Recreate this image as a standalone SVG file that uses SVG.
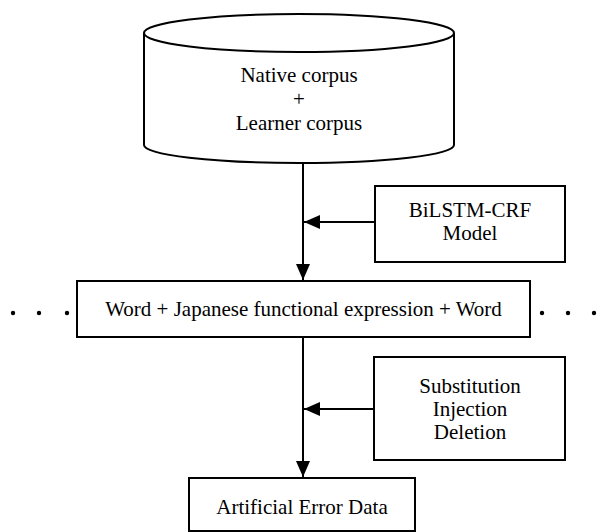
<svg xmlns="http://www.w3.org/2000/svg" width="597" height="532" viewBox="0 0 597 532">
<style>
.s{fill:#fff;stroke:#000;stroke-width:2}
.t{font-family:"Liberation Serif","Times New Roman",serif;font-size:21px;fill:#000;text-anchor:middle}
.c{stroke:#000;stroke-width:2;fill:none}
</style>
<defs>
<marker id="ah" markerUnits="userSpaceOnUse" markerWidth="16" markerHeight="16" viewBox="0 0 16 16" refX="16" refY="8" orient="auto">
<path d="M0,1 L16,8 L0,15 Z" fill="#000"/>
</marker>
</defs>
<rect width="597" height="532" fill="#fff"/>
<g id="corpus">
<path class="s" d="M144,33 L144,145 A155,18 0 0 0 454,145 L454,33"/>
<ellipse class="s" cx="299" cy="33" rx="155" ry="19"/>
<text class="t" x="299" y="82">Native corpus</text>
<text class="t" x="299" y="106">+</text>
<text class="t" x="299" y="130">Learner corpus</text>
</g>
<g id="bilstm">
<rect class="s" x="375" y="186" width="190" height="76"/>
<text class="t" x="470" y="217">BiLSTM-CRF</text>
<text class="t" x="470" y="240">Model</text>
</g>
<g id="expression">
<rect class="s" x="77" y="281" width="453" height="56"/>
<text class="t" x="303.5" y="316">Word + Japanese functional expression + Word</text>
<circle cx="13" cy="313" r="2.2"/>
<circle cx="39" cy="313" r="2.2"/>
<circle cx="67" cy="313" r="2.2"/>
<circle cx="542" cy="313" r="2.2"/>
<circle cx="568" cy="313" r="2.2"/>
<circle cx="594" cy="313" r="2.2"/>
</g>
<g id="operations">
<rect class="s" x="374" y="357" width="191" height="103"/>
<text class="t" x="470" y="393">Substitution</text>
<text class="t" x="470" y="416">Injection</text>
<text class="t" x="470" y="439">Deletion</text>
</g>
<g id="output">
<rect class="s" x="189" y="478" width="226" height="53"/>
<text class="t" x="302" y="514">Artificial Error Data</text>
</g>
<g id="connectors">
<line class="c" x1="303" y1="163" x2="303" y2="280" marker-end="url(#ah)"/>
<line class="c" x1="375" y1="222" x2="304" y2="222" marker-end="url(#ah)"/>
<line class="c" x1="303" y1="337" x2="303" y2="477" marker-end="url(#ah)"/>
<line class="c" x1="374" y1="409" x2="304" y2="409" marker-end="url(#ah)"/>
</g>
</svg>
